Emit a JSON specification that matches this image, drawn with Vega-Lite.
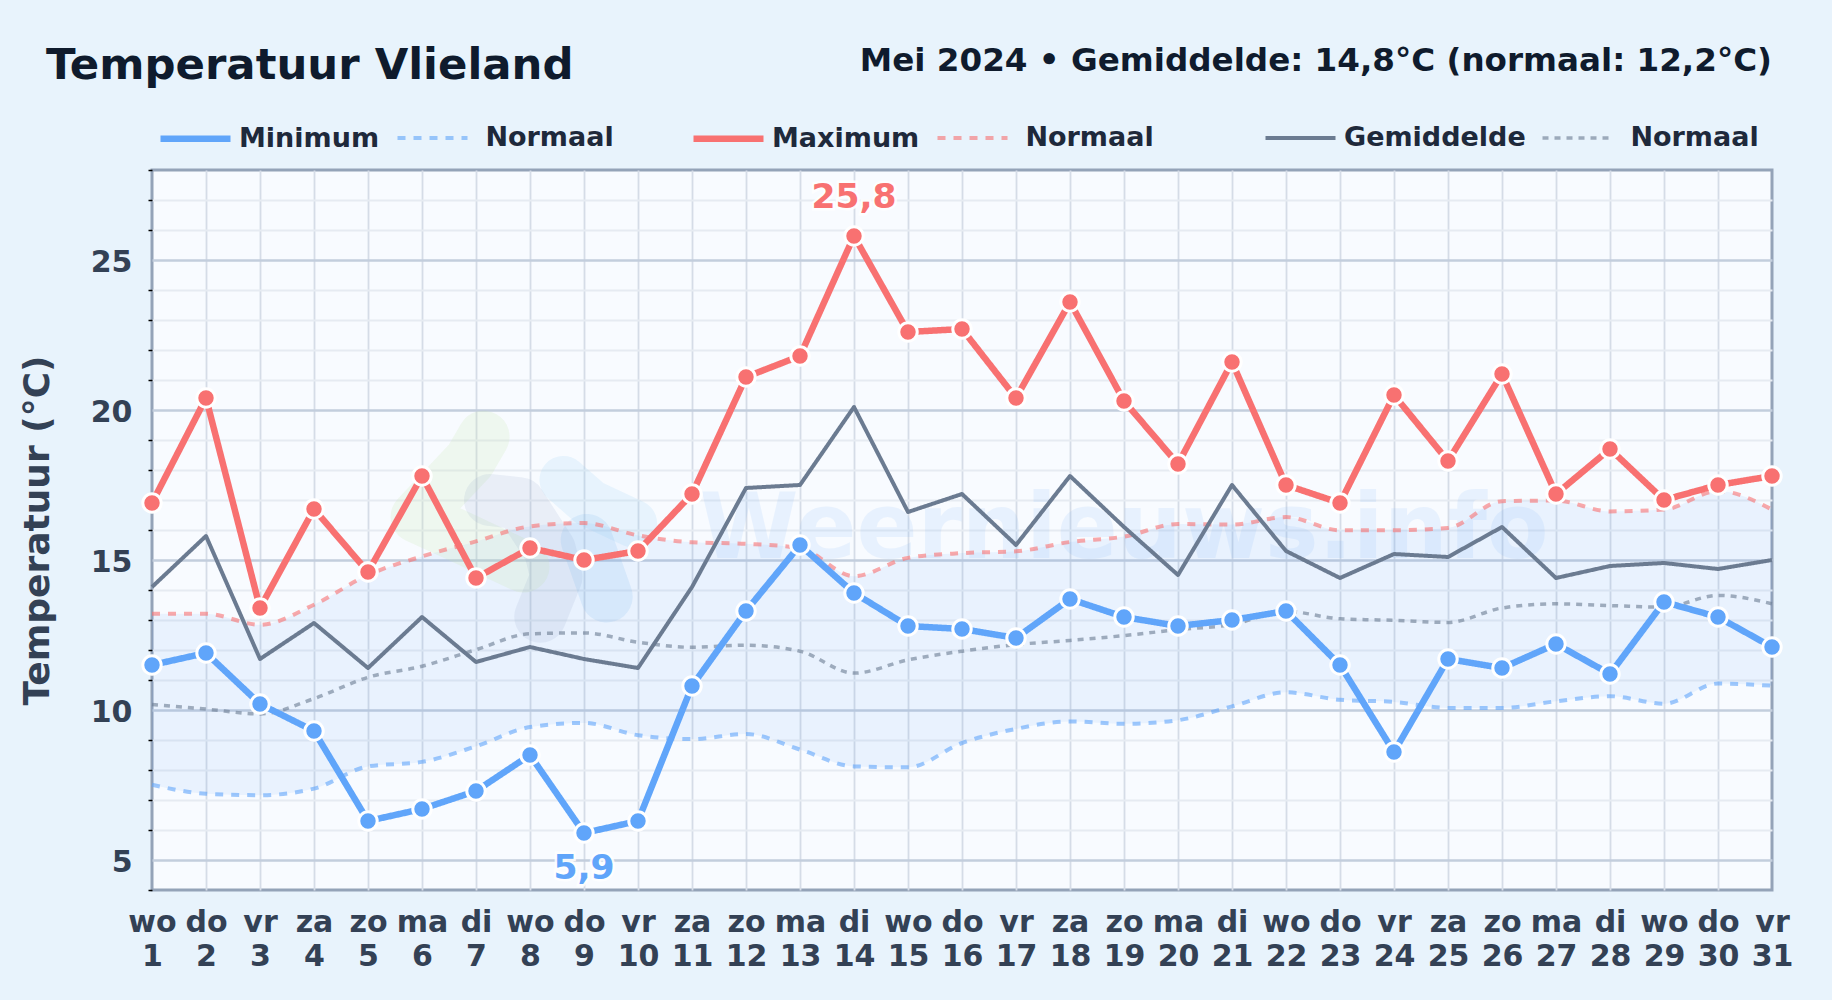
{
"$schema":"https://vega.github.io/schema/vega-lite/v6.json",
"autosize":{"type":"none"},
"padding":{"left":152,"top":170,"right":60,"bottom":110},
"width":1620,"height":720,
"background":"#e8f3fc",
"title":{"text":"Temperatuur Vlieland","anchor":"start","frame":"group","orient":"top","dx":-106,"offset":-78,"baseline":"alphabetic","font":"DejaVu Sans","fontWeight":"bold","fontSize":43.4,"color":"#0f1b2d"},
"config":{"font":"DejaVu Sans","view":{"fill":"#f8fbff","stroke":"#94a3b8","strokeWidth":3}},
"datasets":{
"days":[
{"day":1,"Minimum":11.5,"Normaal min":7.51,"Maximum":16.9,"Normaal max":13.21,"Gemiddelde":14.1,"Normaal gem":10.18},
{"day":2,"Minimum":11.9,"Normaal min":7.21,"Maximum":20.4,"Normaal max":13.21,"Gemiddelde":15.8,"Normaal gem":10.03},
{"day":3,"Minimum":10.2,"Normaal min":7.16,"Maximum":13.4,"Normaal max":12.84,"Gemiddelde":11.7,"Normaal gem":9.87},
{"day":4,"Minimum":9.3,"Normaal min":7.38,"Maximum":16.7,"Normaal max":13.51,"Gemiddelde":12.9,"Normaal gem":10.38},
{"day":5,"Minimum":6.3,"Normaal min":8.12,"Maximum":14.6,"Normaal max":14.5,"Gemiddelde":11.4,"Normaal gem":11.09},
{"day":6,"Minimum":6.7,"Normaal min":8.27,"Maximum":17.8,"Normaal max":15.12,"Gemiddelde":13.1,"Normaal gem":11.46},
{"day":7,"Minimum":7.3,"Normaal min":8.79,"Maximum":14.4,"Normaal max":15.62,"Gemiddelde":11.6,"Normaal gem":12.01},
{"day":8,"Minimum":8.5,"Normaal min":9.43,"Maximum":15.4,"Normaal max":16.12,"Gemiddelde":12.1,"Normaal gem":12.54},
{"day":9,"Minimum":5.9,"Normaal min":9.57,"Maximum":15.0,"Normaal max":16.23,"Gemiddelde":11.7,"Normaal gem":12.57},
{"day":10,"Minimum":6.3,"Normaal min":9.16,"Maximum":15.3,"Normaal max":15.82,"Gemiddelde":11.4,"Normaal gem":12.26},
{"day":11,"Minimum":10.8,"Normaal min":9.03,"Maximum":17.2,"Normaal max":15.59,"Gemiddelde":14.1,"Normaal gem":12.09},
{"day":12,"Minimum":13.3,"Normaal min":9.2,"Maximum":21.1,"Normaal max":15.54,"Gemiddelde":17.4,"Normaal gem":12.16},
{"day":13,"Minimum":15.5,"Normaal min":8.68,"Maximum":21.8,"Normaal max":15.4,"Gemiddelde":17.5,"Normaal gem":11.96},
{"day":14,"Minimum":13.9,"Normaal min":8.12,"Maximum":25.8,"Normaal max":14.46,"Gemiddelde":20.1,"Normaal gem":11.23},
{"day":15,"Minimum":12.8,"Normaal min":8.09,"Maximum":22.6,"Normaal max":15.07,"Gemiddelde":16.6,"Normaal gem":11.67},
{"day":16,"Minimum":12.7,"Normaal min":8.9,"Maximum":22.7,"Normaal max":15.23,"Gemiddelde":17.2,"Normaal gem":11.96},
{"day":17,"Minimum":12.4,"Normaal min":9.37,"Maximum":20.4,"Normaal max":15.29,"Gemiddelde":15.5,"Normaal gem":12.18},
{"day":18,"Minimum":13.7,"Normaal min":9.62,"Maximum":23.6,"Normaal max":15.6,"Gemiddelde":17.8,"Normaal gem":12.32},
{"day":19,"Minimum":13.1,"Normaal min":9.54,"Maximum":20.3,"Normaal max":15.78,"Gemiddelde":16.1,"Normaal gem":12.48},
{"day":20,"Minimum":12.8,"Normaal min":9.66,"Maximum":18.2,"Normaal max":16.2,"Gemiddelde":14.5,"Normaal gem":12.68},
{"day":21,"Minimum":13.0,"Normaal min":10.12,"Maximum":21.6,"Normaal max":16.18,"Gemiddelde":17.5,"Normaal gem":12.85},
{"day":22,"Minimum":13.3,"Normaal min":10.59,"Maximum":17.5,"Normaal max":16.43,"Gemiddelde":15.3,"Normaal gem":13.29},
{"day":23,"Minimum":11.5,"Normaal min":10.34,"Maximum":16.9,"Normaal max":15.99,"Gemiddelde":14.4,"Normaal gem":13.04},
{"day":24,"Minimum":8.6,"Normaal min":10.27,"Maximum":20.5,"Normaal max":15.99,"Gemiddelde":15.2,"Normaal gem":12.99},
{"day":25,"Minimum":11.7,"Normaal min":10.07,"Maximum":18.3,"Normaal max":16.07,"Gemiddelde":15.1,"Normaal gem":12.92},
{"day":26,"Minimum":11.4,"Normaal min":10.07,"Maximum":21.2,"Normaal max":16.96,"Gemiddelde":16.1,"Normaal gem":13.4},
{"day":27,"Minimum":12.2,"Normaal min":10.29,"Maximum":17.2,"Normaal max":16.98,"Gemiddelde":14.4,"Normaal gem":13.54},
{"day":28,"Minimum":11.2,"Normaal min":10.46,"Maximum":18.7,"Normaal max":16.62,"Gemiddelde":14.8,"Normaal gem":13.48},
{"day":29,"Minimum":13.6,"Normaal min":10.21,"Maximum":17.0,"Normaal max":16.68,"Gemiddelde":14.9,"Normaal gem":13.43},
{"day":30,"Minimum":13.1,"Normaal min":10.88,"Maximum":17.5,"Normaal max":17.3,"Gemiddelde":14.7,"Normaal gem":13.82},
{"day":31,"Minimum":12.1,"Normaal min":10.81,"Maximum":17.8,"Normaal max":16.68,"Gemiddelde":15.0,"Normaal gem":13.54}
],
"logo":[
{"blob":"green","step":1,"day":7.14,"temp":19.11},{"blob":"green","step":2,"day":6.89,"temp":18.33},{"blob":"green","step":3,"day":5.9,"temp":16.44},{"blob":"green","step":4,"day":6.7,"temp":15.78},{"blob":"green","step":5,"day":7.88,"temp":14.78},
{"blob":"gray","step":1,"day":7.26,"temp":17.0},{"blob":"gray","step":2,"day":7.81,"temp":16.89},{"blob":"gray","step":3,"day":8.37,"temp":15.33},{"blob":"gray","step":4,"day":8.49,"temp":14.44},{"blob":"gray","step":5,"day":8.19,"temp":13.11},
{"blob":"light","step":1,"day":8.62,"temp":17.67},{"blob":"light","step":2,"day":9.11,"temp":16.89},{"blob":"light","step":3,"day":9.91,"temp":16.22},
{"blob":"blue","step":1,"day":9.05,"temp":15.67},{"blob":"blue","step":2,"day":9.42,"temp":13.78}
],
"extremes":[{"day":14,"temp":25.8,"label":"25,8","kind":"max"},{"day":9,"temp":5.9,"label":"5,9","kind":"min"}],
"notes":[{"day":19,"temp":15.97,"text":"Weernieuws.info","kind":"watermark"},{"day":31,"temp":31.31,"text":"Mei 2024 • Gemiddelde: 14,8°C (normaal: 12,2°C)","kind":"subtitle"}]
},
"layer":[
{"data":{"name":"days"},"mark":{"type":"area","interpolate":"monotone","color":"#3b82f6","opacity":0.075},
 "encoding":{
  "x":{"field":"day","type":"quantitative","scale":{"domain":[1,31],"nice":false,"zero":false},
   "axis":{"tickCount":30,"title":null,"domain":false,"ticks":false,"grid":true,"gridColor":"#d5dce7","gridWidth":1.8,
    "gridOpacity":{"condition":{"test":"datum.value == 1 || datum.value == 31","value":0},"value":1},
    "labelOverlap":false,"labelBound":false,"labelFlush":false,"labelAngle":0,"labelAlign":"center","labelBaseline":"top","labelPadding":17,"labelLineHeight":34,"labelFont":"DejaVu Sans","labelFontWeight":"bold","labelFontSize":30,"labelColor":"#334155","labelExpr":"[['wo','do','vr','za','zo','ma','di'][(datum.value-1)%7], datum.label]"}},
  "y":{"field":"Normaal max","type":"quantitative","scale":{"domain":[4,28],"nice":false,"zero":false},
   "axis":{"tickCount":24,"title":"Temperatuur (°C)","titleFont":"DejaVu Sans","titleFontWeight":"bold","titleFontSize":36,"titleColor":"#334155","titlePadding":34,"domain":false,"grid":true,
    "gridColor":{"condition":{"test":"datum.value % 5 == 0","value":"#c3cedd"},"value":"#e6ebf2"},
    "gridWidth":{"condition":{"test":"datum.value % 5 == 0","value":2.5},"value":2},
    "gridOpacity":{"condition":{"test":"datum.value == 4 || datum.value == 28","value":0},"value":1},
    "tickColor":"#000000","tickWidth":1.5,"tickSize":4,
    "tickOpacity":{"condition":{"test":"datum.value % 5 == 0","value":0},"value":1},
    "labelOverlap":false,"labelBound":false,"labelPadding":16,"labelOffset":2,"labelFont":"DejaVu Sans","labelFontWeight":"bold","labelFontSize":30,"labelColor":"#334155","labelExpr":"datum.value % 5 == 0 ? datum.label : ''"}},
  "y2":{"field":"Normaal min"}
 }},
{"data":{"name":"logo"},"transform":[{"filter":"datum.blob=='green'"}],"mark":{"type":"line","color":"#cfe6b8","opacity":0.22,"strokeWidth":52,"strokeCap":"round","strokeJoin":"round"},"encoding":{"x":{"field":"day","type":"quantitative"},"y":{"field":"temp","type":"quantitative"},"order":{"field":"step"}}},
{"data":{"name":"logo"},"transform":[{"filter":"datum.blob=='gray'"}],"mark":{"type":"line","color":"#8ea6c6","opacity":0.14,"strokeWidth":52,"strokeCap":"round","strokeJoin":"round"},"encoding":{"x":{"field":"day","type":"quantitative"},"y":{"field":"temp","type":"quantitative"},"order":{"field":"step"}}},
{"data":{"name":"logo"},"transform":[{"filter":"datum.blob=='light'"}],"mark":{"type":"line","color":"#8fcdf5","opacity":0.16,"strokeWidth":48,"strokeCap":"round","strokeJoin":"round"},"encoding":{"x":{"field":"day","type":"quantitative"},"y":{"field":"temp","type":"quantitative"},"order":{"field":"step"}}},
{"data":{"name":"logo"},"transform":[{"filter":"datum.blob=='blue'"}],"mark":{"type":"line","color":"#74b4ee","opacity":0.16,"strokeWidth":52,"strokeCap":"round","strokeJoin":"round"},"encoding":{"x":{"field":"day","type":"quantitative"},"y":{"field":"temp","type":"quantitative"},"order":{"field":"step"}}},
{"data":{"name":"notes"},"transform":[{"filter":"datum.kind=='watermark'"}],"mark":{"type":"text","font":"DejaVu Sans","fontWeight":"bold","fontSize":90,"color":"#60a5fa","opacity":0.1,"align":"center","baseline":"middle"},"encoding":{"x":{"field":"day","type":"quantitative"},"y":{"field":"temp","type":"quantitative"},"text":{"field":"text"}}},
{"data":{"name":"notes"},"transform":[{"filter":"datum.kind=='subtitle'"}],"mark":{"type":"text","font":"DejaVu Sans","fontWeight":"bold","fontSize":32.6,"color":"#0f1b2d","align":"right","baseline":"alphabetic"},"encoding":{"x":{"field":"day","type":"quantitative"},"y":{"field":"temp","type":"quantitative"},"text":{"field":"text"}}},
{"data":{"name":"days"},"transform":[{"fold":["Minimum","Normaal min","Maximum","Normaal max","Gemiddelde","Normaal gem"],"as":["key","temp"]},{"filter":"indexof(datum.key,'Normaal')==0"}],
 "mark":{"type":"line","interpolate":"monotone"},
 "encoding":{
  "x":{"field":"day","type":"quantitative"},
  "y":{"field":"temp","type":"quantitative"},
  "color":{"field":"key","type":"nominal","scale":{"domain":["Minimum","Normaal min","Maximum","Normaal max","Gemiddelde","Normaal gem"],"range":["#60a5fa","#60a5fa","#f87171","#f87171","#6b7b91","#6b7b91"]},
   "legend":{"title":null,"orient":"none","legendX":5,"legendY":-70,"direction":"horizontal","columns":6,"symbolType":"stroke","symbolSize":4900,"labelOffset":5,"columnPadding":9,"labelFont":"DejaVu Sans","labelFontWeight":"bold","labelFontSize":27,"labelColor":"#1e293b","labelLimit":400,"labelExpr":"datum.label=='Normaal min' ? '\u200b\u00a0Normaal\u00a0\u00a0\u00a0\u00a0\u00a0\u00a0\u200b' : datum.label=='Normaal max' ? '\u200b\u00a0Normaal\u00a0\u00a0\u00a0\u00a0\u00a0\u00a0\u00a0\u00a0\u00a0\u00a0\u200b' : datum.label=='Normaal gem' ? '\u200b\u00a0Normaal' : datum.label"}},
  "strokeDash":{"field":"key","type":"nominal","scale":{"domain":["Minimum","Normaal min","Maximum","Normaal max","Gemiddelde","Normaal gem"],"range":[[1,0],[8,8],[1,0],[8,8],[1,0],[6,6]]},"legend":{"title":null}},
  "strokeWidth":{"field":"key","type":"nominal","scale":{"type":"ordinal","domain":["Minimum","Normaal min","Maximum","Normaal max","Gemiddelde","Normaal gem"],"range":[6.5,4,6.5,4,4,3.5]},"legend":{"title":null}},
  "opacity":{"field":"key","type":"nominal","scale":{"type":"ordinal","domain":["Minimum","Normaal min","Maximum","Normaal max","Gemiddelde","Normaal gem"],"range":[1,0.6,1,0.6,1,0.6]},"legend":{"title":null}}
 }},
{"data":{"name":"days"},"transform":[{"fold":["Gemiddelde","Maximum","Minimum"],"as":["key","temp"]}],
 "mark":{"type":"line","strokeJoin":"round"},
 "encoding":{
  "x":{"field":"day","type":"quantitative"},
  "y":{"field":"temp","type":"quantitative"},
  "color":{"field":"key","type":"nominal","scale":{"domain":["Minimum","Normaal min","Maximum","Normaal max","Gemiddelde","Normaal gem"]},"legend":{"title":null}},
  "strokeDash":{"field":"key","type":"nominal","legend":{"title":null}},
  "strokeWidth":{"field":"key","type":"nominal","scale":{"type":"ordinal"},"legend":{"title":null}},
  "opacity":{"field":"key","type":"nominal","scale":{"type":"ordinal"},"legend":{"title":null}}
 }},
{"data":{"name":"days"},"transform":[{"fold":["Maximum","Minimum"],"as":["key","temp"]}],
 "mark":{"type":"point","filled":true,"size":340,"stroke":"#ffffff","strokeWidth":3,"opacity":1},
 "encoding":{
  "x":{"field":"day","type":"quantitative"},
  "y":{"field":"temp","type":"quantitative"},
  "color":{"field":"key","type":"nominal","legend":null}
 }},
{"data":{"name":"extremes"},"transform":[{"filter":"datum.kind=='max'"}],"mark":{"type":"text","font":"DejaVu Sans","fontWeight":"bold","fontSize":34.5,"color":"#f87171","stroke":"#ffffff","strokeWidth":5,"strokeOpacity":0.85,"dy":-38,"baseline":"middle","align":"center"},"encoding":{"x":{"field":"day","type":"quantitative"},"y":{"field":"temp","type":"quantitative"},"text":{"field":"label"}}},
{"data":{"name":"extremes"},"transform":[{"filter":"datum.kind=='min'"}],"mark":{"type":"text","font":"DejaVu Sans","fontWeight":"bold","fontSize":34.5,"color":"#60a5fa","stroke":"#ffffff","strokeWidth":5,"strokeOpacity":0.85,"dy":36,"baseline":"middle","align":"center"},"encoding":{"x":{"field":"day","type":"quantitative"},"y":{"field":"temp","type":"quantitative"},"text":{"field":"label"}}},
{"data":{"name":"extremes"},"transform":[{"filter":"datum.kind=='max'"}],"mark":{"type":"text","font":"DejaVu Sans","fontWeight":"bold","fontSize":34.5,"color":"#f87171","dy":-38,"baseline":"middle","align":"center"},"encoding":{"x":{"field":"day","type":"quantitative"},"y":{"field":"temp","type":"quantitative"},"text":{"field":"label"}}},
{"data":{"name":"extremes"},"transform":[{"filter":"datum.kind=='min'"}],"mark":{"type":"text","font":"DejaVu Sans","fontWeight":"bold","fontSize":34.5,"color":"#60a5fa","dy":36,"baseline":"middle","align":"center"},"encoding":{"x":{"field":"day","type":"quantitative"},"y":{"field":"temp","type":"quantitative"},"text":{"field":"label"}}}
]
}
